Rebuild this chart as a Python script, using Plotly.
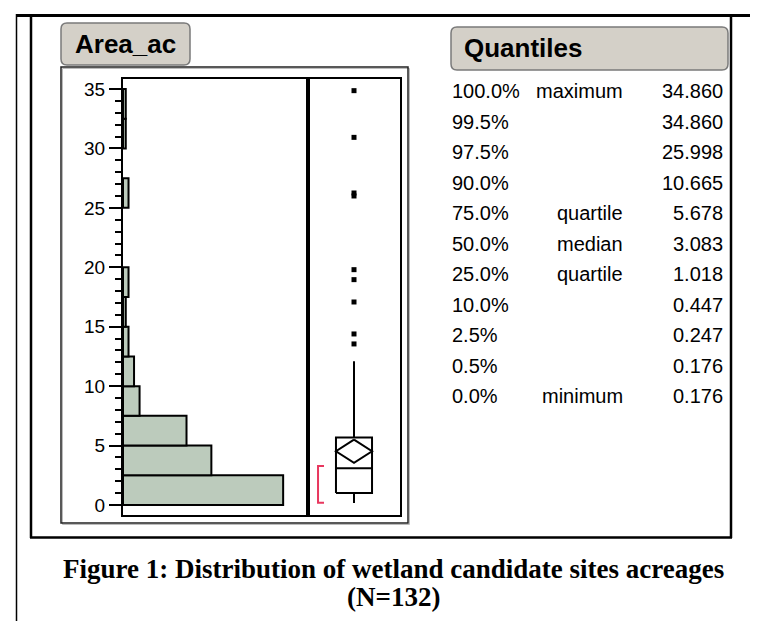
import plotly.graph_objects as go

# ---------------- data ----------------
bin_lower = [0, 2.5, 5, 7.5, 10, 12.5, 15, 17.5, 20, 22.5, 25, 27.5, 30, 32.5]
bin_counts = [58, 32, 23, 6, 4, 2, 1, 2, 0, 0, 2, 0, 1, 1]
bin_width = 2.5

outliers = [13.55, 14.39, 17.08, 18.96, 19.80, 25.998, 26.25, 30.93, 34.86]
whisker_low = 0.176
q1 = 1.018
median = 3.083
q3 = 5.678
whisker_high = 12.1
mean_val = 4.52
mean_ci = [3.54, 5.50]
shortest_half = [0.18, 3.28]

y_ticks = [0, 5, 10, 15, 20, 25, 30, 35]

quant_pct = ["100.0%", "99.5%", "97.5%", "90.0%", "75.0%", "50.0%",
             "25.0%", "10.0%", "2.5%", "0.5%", "0.0%"]
quant_lbl = ["maximum", "", "", "", "quartile", "median",
             "quartile", "", "", "", "minimum"]
quant_val = ["34.860", "34.860", "25.998", "10.665", "5.678", "3.083",
             "1.018", "0.447", "0.247", "0.176", "0.176"]

title_left = "Area_ac"
title_right = "Quantiles"
caption1 = "Figure 1: Distribution of wetland candidate sites acreages"
caption2 = "(N=132)"

# ---------------- layout helpers ----------------
W, H = 758, 621
def px(x):
    return x / W
def py(y):
    return 1 - y / H

SANS = "Arial, Liberation Sans, sans-serif"
SERIF = "Times New Roman, Liberation Serif, serif"

fig = go.Figure()

# histogram (horizontal bars)
centers = [b + bin_width / 2 for b, c in zip(bin_lower, bin_counts) if c > 0]
counts = [c for c in bin_counts if c > 0]
fig.add_trace(go.Bar(
    orientation="h", y=centers, x=counts, width=bin_width,
    marker=dict(color="#BCCBBC", line=dict(color="black", width=2)),
    xaxis="x", yaxis="y", hoverinfo="skip"))

# box plot pieces (box panel x range is 0..1, centre 0.5)
cx = 0.5
hw = 0.196
fig.add_trace(go.Scatter(x=[cx, cx], y=[q3, whisker_high], mode="lines",
                         line=dict(color="black", width=2), xaxis="x2", yaxis="y2"))
fig.add_trace(go.Scatter(x=[cx, cx], y=[whisker_low, q1], mode="lines",
                         line=dict(color="black", width=2), xaxis="x2", yaxis="y2"))
fig.add_trace(go.Scatter(x=[cx - hw, cx + hw, cx + hw, cx - hw, cx - hw],
                         y=[q1, q1, q3, q3, q1], mode="lines",
                         line=dict(color="black", width=2), xaxis="x2", yaxis="y2"))
fig.add_trace(go.Scatter(x=[cx - hw, cx + hw], y=[median, median], mode="lines",
                         line=dict(color="black", width=2), xaxis="x2", yaxis="y2"))
fig.add_trace(go.Scatter(x=[cx, cx + hw, cx, cx - hw, cx],
                         y=[mean_ci[1], mean_val, mean_ci[0], mean_val, mean_ci[1]],
                         mode="lines", line=dict(color="black", width=2),
                         xaxis="x2", yaxis="y2"))
fig.add_trace(go.Scatter(x=[0.174, 0.109, 0.109, 0.174],
                         y=[shortest_half[1], shortest_half[1], shortest_half[0], shortest_half[0]],
                         mode="lines", line=dict(color="#E8375E", width=2),
                         xaxis="x2", yaxis="y2"))
fig.add_trace(go.Scatter(x=[cx] * len(outliers), y=outliers, mode="markers",
                         marker=dict(symbol="square", size=5, color="black"),
                         xaxis="x2", yaxis="y2"))

ydom = [py(507), py(71)]
yrange = [-0.841, 35.84]
axis_common = dict(showgrid=False, zeroline=False, showline=True, linecolor="black",
                   linewidth=2, mirror=True)

fig.update_layout(
    width=W, height=H, margin=dict(l=0, r=0, t=0, b=0),
    paper_bgcolor="white", plot_bgcolor="white", showlegend=False,
    xaxis=dict(domain=[px(115), px(300)], range=[0, 67], showticklabels=False,
               ticks="", anchor="y", **axis_common),
    yaxis=dict(domain=ydom, range=yrange, tickvals=y_ticks, ticks="outside",
               ticklen=12, tickwidth=2, tickcolor="black", anchor="x",
               tickfont=dict(family=SANS, size=19, color="black"),
               minor=dict(dtick=1, ticks="outside", ticklen=6, tickwidth=2,
                          tickcolor="black"),
               **axis_common),
    xaxis2=dict(domain=[px(300), px(392)], range=[0, 1], showticklabels=False,
                ticks="", anchor="y2", **axis_common),
    yaxis2=dict(domain=ydom, range=yrange, showticklabels=False, ticks="",
                anchor="x2", **axis_common),
)

shapes = []
def line(x0, y0, x1, y1, w, color="black"):
    shapes.append(dict(type="line", xref="paper", yref="paper",
                       x0=px(x0), y0=py(y0), x1=px(x1), y1=py(y1),
                       line=dict(color=color, width=w)))

# page frame lines
line(8.5, 6, 8.5, 621, 1.5)
line(8, 7.5, 758, 7.5, 3)
line(23, 6, 23, 530, 2.5)
line(723, 6, 723, 530, 2.5)
line(22, 529.5, 724, 529.5, 2.5)

# panel outline (with faint shadow)
shapes.append(dict(type="rect", xref="paper", yref="paper",
                   x0=px(54.5), y0=py(516.5), x1=px(401.5), y1=py(60.5),
                   line=dict(color="#BBBBBB", width=1)))
shapes.append(dict(type="rect", xref="paper", yref="paper",
                   x0=px(53), y0=py(515), x1=px(400), y1=py(59),
                   line=dict(color="#222222", width=1.5)))

def rounded(x0, y0, x1, y1, r):
    X0, X1 = px(x0), px(x1)
    Yt, Yb = py(y0), py(y1)
    rx, ry = r / W, r / H
    path = (f"M {X0+rx},{Yt} L {X1-rx},{Yt} Q {X1},{Yt} {X1},{Yt-ry} "
            f"L {X1},{Yb+ry} Q {X1},{Yb} {X1-rx},{Yb} L {X0+rx},{Yb} "
            f"Q {X0},{Yb} {X0},{Yb+ry} L {X0},{Yt-ry} Q {X0},{Yt} {X0+rx},{Yt} Z")
    shapes.append(dict(type="path", xref="paper", yref="paper", path=path,
                       fillcolor="#D4D0C8", line=dict(color="#7A7A7A", width=1.5)))

rounded(53, 15, 182, 57, 6)
rounded(443, 19, 720, 62, 6)
fig.update_layout(shapes=shapes)

ann = []
def text(x, y, s, anchor, size, family=SANS, bold=False):
    ann.append(dict(x=px(x), y=py(y), xref="paper", yref="paper", text=s,
                    showarrow=False, xanchor=anchor, yanchor="middle",
                    font=dict(family=family, size=size, color="black",
                              weight="bold" if bold else "normal")))

text(65, 36, title_left, "left", 26, bold=True)
text(454, 40, title_right, "left", 26, bold=True)

row0, dy = 83, 30.5
for i, (p, l, v) in enumerate(zip(quant_pct, quant_lbl, quant_val)):
    y = row0 + i * dy
    text(442, y, p, "left", 20)
    if l:
        text(617, y, l, "right", 20)
    text(717, y, v, "right", 20)

text(385, 561, caption1, "center", 27, family=SERIF, bold=True)
text(385, 589, caption2, "center", 27, family=SERIF, bold=True)
fig.update_layout(annotations=ann)

fig.write_html("out.html")
